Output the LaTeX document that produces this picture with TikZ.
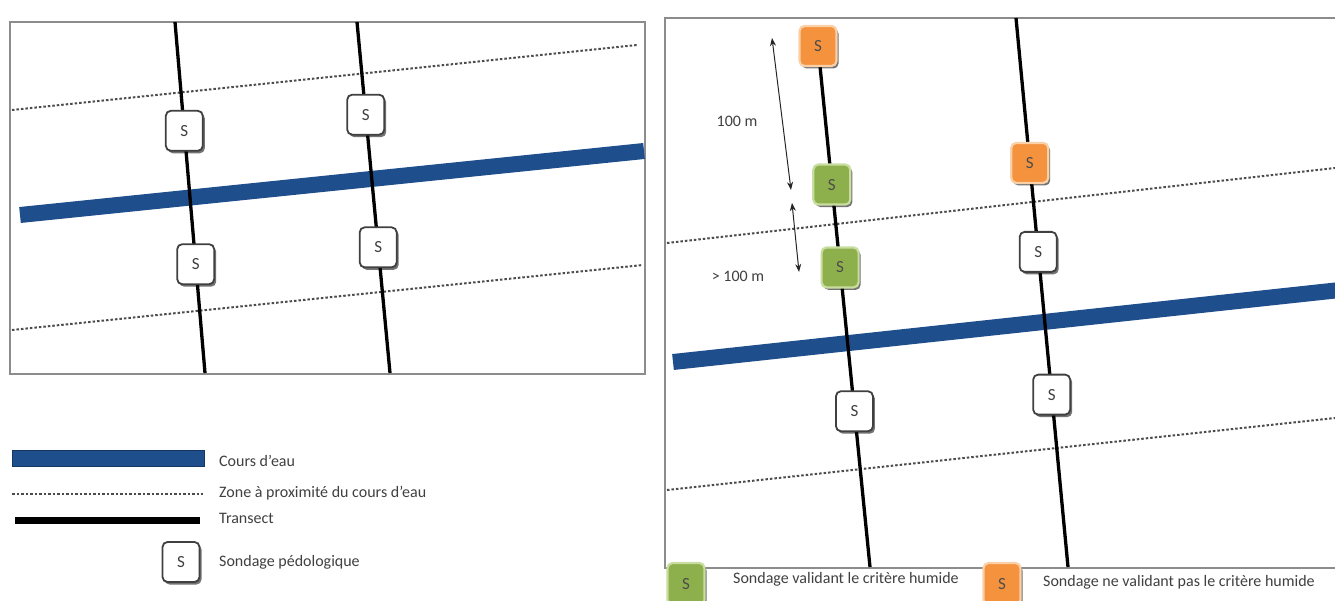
\documentclass[tikz,border=0pt]{standalone}
\usepackage{fontspec}
\setmainfont{Carlito}
\usetikzlibrary{calc,shadows,arrows.meta}
\definecolor{river}{HTML}{1F4E8C}
\definecolor{sgreen}{HTML}{8DB04C}
\definecolor{sgreenb}{HTML}{C9DDA0}
\definecolor{sorange}{HTML}{F5923E}
\definecolor{sorangeb}{HTML}{FAD0A8}
\definecolor{txt}{HTML}{404040}
\definecolor{frame}{HTML}{8C8C8C}
\tikzset{
  panel/.style={draw=frame, line width=2pt},
  riverline/.style={draw=river, line width=16pt},
  zoneline/.style={draw=black!70, line width=2pt, dash pattern=on 2.5pt off 2pt},
  transect/.style={draw=black, line width=3.3pt},
  sbox/.style={draw=black!75, line width=1.8pt, rounded corners=5pt, fill=white,
    minimum width=37pt, minimum height=40pt, inner sep=0pt, text=txt,
    font=\fontsize{17}{17}\selectfont,
    drop shadow={shadow xshift=2pt, shadow yshift=-2.5pt, opacity=0.55, fill=black}},
  gbox/.style={sbox, draw=sgreenb, line width=2.2pt, fill=sgreen, text=black!70},
  obox/.style={sbox, draw=sorangeb, line width=2.2pt, fill=sorange, text=black!70},
  lbl/.style={text=txt, anchor=west, inner sep=0pt, font=\fontsize{16}{16}\selectfont},
  meas/.style={draw=black!85, line width=1pt, {Stealth[length=8pt,width=6pt]}-{Stealth[length=8pt,width=6pt]}},
}
\begin{document}
\begin{tikzpicture}[x=1pt,y=-1pt]
\useasboundingbox (0,0) rectangle (1335,601);
\fill[white] (0,0) rectangle (1335,601);

% ---------------- left panel ----------------
\draw[panel] (10,22) rectangle (645,374);
\coordinate (lz1a) at (12,110); \coordinate (lz1b) at (637,45);
\coordinate (lz2a) at (12,330); \coordinate (lz2b) at (643,265);
\draw[zoneline] (lz1a) -- (lz1b);
\draw[zoneline] (lz2a) -- (lz2b);
\coordinate (lra) at (20,215); \coordinate (lrb) at (644,151);
\draw[riverline] (lra) -- (lrb);
\coordinate (lt1a) at (175,22); \coordinate (lt1b) at (205,373);
\coordinate (lt2a) at (357,22); \coordinate (lt2b) at (390,373);
\draw[transect] (lt1a) -- (lt1b);
\draw[transect] (lt2a) -- (lt2b);
\node[sbox] (ls1) at ($(lt1a)!0.31!(lt1b)$) {S};
\node[sbox] (ls2) at ($(lt1a)!0.69!(lt1b)$) {S};
\node[sbox] (ls3) at ($(lt2a)!0.264!(lt2b)$) {S};
\node[sbox] (ls4) at ($(lt2a)!0.642!(lt2b)$) {S};

% ---------------- right panel ----------------
\draw[panel] (1340,18) -- (665,18) -- (665,568) -- (1340,568);
\coordinate (rz1a) at (667,243); \coordinate (rz1b) at (1335,168);
\coordinate (rz2a) at (667,490); \coordinate (rz2b) at (1335,418);
\draw[zoneline] (rz1a) -- (rz1b);
\draw[zoneline] (rz2a) -- (rz2b);
\coordinate (rra) at (673,362); \coordinate (rrb) at (1340,290);
\draw[riverline] (rra) -- (rrb);
\coordinate (rt1a) at (818,46); \coordinate (rt1b) at (870,567);
\coordinate (rt2a) at (1016,18); \coordinate (rt2b) at (1068,567);
\draw[transect] (rt1a) -- (rt1b);
\draw[transect] (rt2a) -- (rt2b);
\node[obox] (ro1) at (rt1a) {S};
\node[gbox] (rg1) at ($(rt1a)!0.266!(rt1b)$) {S};
\node[gbox] (rg2) at ($(rt1a)!0.425!(rt1b)$) {S};
\node[sbox] (rs1) at ($(rt1a)!0.701!(rt1b)$) {S};
\node[obox] (ro2) at ($(rt2a)!0.264!(rt2b)$) {S};
\node[sbox] (rs2) at ($(rt2a)!0.426!(rt2b)$) {S};
\node[sbox] (rs3) at ($(rt2a)!0.686!(rt2b)$) {S};

% measurement arrows
\coordinate (m1a) at (772,38); \coordinate (m1b) at (791,190);
\coordinate (m2a) at (792,203); \coordinate (m2b) at (799,272);
\draw[meas] (m1a) -- (m1b);
\draw[meas] (m2a) -- (m2b);
\node[lbl, anchor=center] (d1) at (737,121) {100 m};
\node[lbl, anchor=center] (d2) at (738,276) {> 100 m};

% ---------------- left legend ----------------
\draw[fill=river, draw=river!70!black, line width=0.6pt] (12,450) rectangle (204,466);
\draw[zoneline, line width=1.4pt] (12,494) -- (203,494);
\fill[black] (15,517) rectangle (200,524);
\node[sbox] (lgs) at (181,562) {S};
\node[lbl] (lg1) at (219,461) {Cours d'eau};
\node[lbl] (lg2) at (219,493) {Zone à proximité du cours d'eau};
\node[lbl] (lg3) at (219,518) {Transect};
\node[lbl] (lg4) at (219,562) {Sondage pédologique};

% ---------------- right legend ----------------
\node[gbox, minimum height=42pt] (lgg) at (686,584) {S};
\node[lbl] (lg5) at (733,579) {Sondage validant le critère humide};
\node[obox, minimum height=42pt] (lgo) at (1002,584) {S};
\node[lbl] (lg6) at (1043,582) {Sondage ne validant pas le critère humide};
\end{tikzpicture}
\end{document}
